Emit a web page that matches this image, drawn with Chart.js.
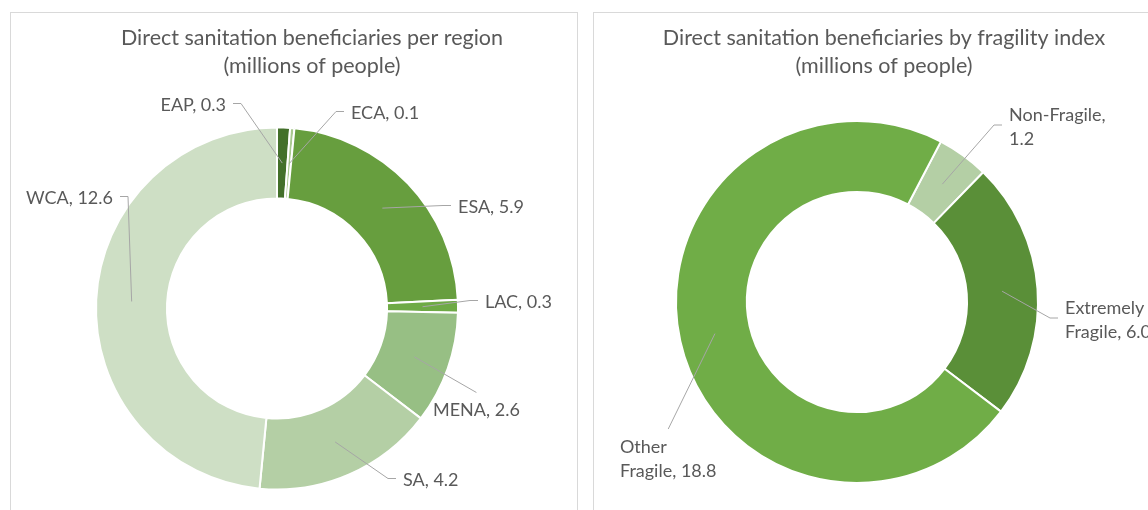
<!DOCTYPE html>
<html>
<head>
<meta charset="utf-8">
<script src="https://cdn.jsdelivr.net/npm/chart.js@4.4.1/dist/chart.umd.min.js"></script>
<style>
  body { margin:0; background:#fff; width:1148px; height:510px; overflow:hidden; position:relative; }
  .panel { position:absolute; top:12px; width:566px; height:520px; border:1px solid #d9d9d9; background:#fff; }
  .panel canvas { display:block; }
</style>
</head>
<body>
<div class="panel" style="left:10px"><canvas id="regionChart" width="566" height="520"></canvas></div>
<div class="panel" style="left:593px"><canvas id="fragChart" width="566" height="520"></canvas></div>
<script>
// data
const regions = ['EAP', 'ECA', 'ESA', 'LAC', 'MENA', 'SA', 'WCA'];
const regionValues = [0.3, 0.1, 5.9, 0.3, 2.6, 4.2, 12.6];
const fragility = ['Non-Fragile', 'Extremely Fragile', 'Other Fragile'];
const fragilityValues = [1.2, 6.0, 18.8];

const regionColors = ['#43702a', '#a9c98f', '#679e3e', '#6eaa45', '#97bf84', '#b4cfa5', '#cedfc5'];
const fragColors = ['#b4cfa5', '#5a8f38', '#70ad47'];

// label placement relative to the doughnut centre: [dx, dy, side the leader attaches to]
const regionLabelPos = [
  [-51, -203, 'right'], [74, -195, 'left'], [181, -101, 'left'], [208, -6, 'left'],
  [156, 102, 'top'], [126, 172, 'left'], [-164, -110, 'right']
];
const fragLabelPos = [[152, -187, 'left'], [208, 6, 'left'], [-237, 145, 'top']];

const textColor = '#595959';
const labelFont = '18px Lato';
const titleFont = '21.5px Lato';

function wrap(ctx, text, maxW) {
  const words = text.split(' ');
  let lines = [], cur = '';
  words.forEach(w => {
    const t = cur ? cur + ' ' + w : w;
    if (cur && ctx.measureText(t).width > maxW) { lines.push(cur); cur = w; }
    else cur = t;
  });
  lines.push(cur);
  return lines;
}

const labelPlugin = {
  id: 'excelLabels',
  afterDraw(chart, args, opts) {
    const ctx = chart.ctx;
    const meta = chart.getDatasetMeta(0);
    const arc0 = meta.data[0];
    const cx = arc0.x, cy = arc0.y;
    ctx.save();
    // title
    ctx.font = titleFont;
    ctx.fillStyle = textColor;
    ctx.textAlign = 'center';
    ctx.textBaseline = 'middle';
    opts.title.forEach((t, i) => ctx.fillText(t, opts.titleX, 25 + i * 28));

    ctx.font = labelFont;
    const lh = 24;
    chart.data.labels.forEach((name, i) => {
      const val = chart.data.datasets[0].data[i];
      const lines = wrap(ctx, name + ', ' + val.toFixed(1), opts.wrapW);
      const [dx, dy, side] = opts.pos[i];
      const widths = lines.map(l => ctx.measureText(l).width);
      const w = Math.max(...widths);
      const h = lines.length * lh;
      let left = side === 'right' ? cx + dx - w : cx + dx;
      const top = cy + dy - lh / 2;
      ctx.fillStyle = textColor;
      ctx.textAlign = 'left';
      lines.forEach((l, k) => ctx.fillText(l, left, top + lh / 2 + k * lh));

      const p = meta.data[i].getCenterPoint();
      let pts;
      const midY = top + h / 2 - 2;
      if (side === 'left') pts = [[left - 7, midY], [left - 15, midY]];
      else if (side === 'right') pts = [[left + w + 7, midY], [left + w + 15, midY]];
      else pts = [[left + w / 2, top - 6]];
      pts.push([p.x, p.y]);
      ctx.strokeStyle = '#a6a6a6';
      ctx.lineWidth = 1;
      ctx.beginPath();
      ctx.moveTo(pts[0][0], pts[0][1]);
      pts.slice(1).forEach(q => ctx.lineTo(q[0], q[1]));
      ctx.stroke();
    });
    ctx.restore();
  }
};

function makeDoughnut(id, labels, values, colors, rotation, padding, pluginOpts) {
  return new Chart(document.getElementById(id), {
    type: 'doughnut',
    data: {
      labels: labels,
      datasets: [{ data: values, backgroundColor: colors, borderColor: '#ffffff', borderWidth: 2 }]
    },
    options: {
      responsive: false,
      animation: false,
      rotation: rotation,
      cutout: '60.8%',
      layout: { padding: padding },
      plugins: {
        legend: { display: false },
        tooltip: { enabled: false },
        excelLabels: pluginOpts
      }
    },
    plugins: [labelPlugin]
  });
}

makeDoughnut('regionChart', regions, regionValues, regionColors, 0,
  { left: 84, right: 118, top: 113.5, bottom: 42.5 },
  { title: ['Direct sanitation beneficiaries per region', '(millions of people)'], titleX: 301, pos: regionLabelPos, wrapW: 200 });

makeDoughnut('fragChart', fragility, fragilityValues, fragColors, 27.6,
  { left: 81, right: 121, top: 107, bottom: 49 },
  { title: ['Direct sanitation beneficiaries by fragility index', '(millions of people)'], titleX: 290, pos: fragLabelPos, wrapW: 100 });
</script>
</body>
</html>
